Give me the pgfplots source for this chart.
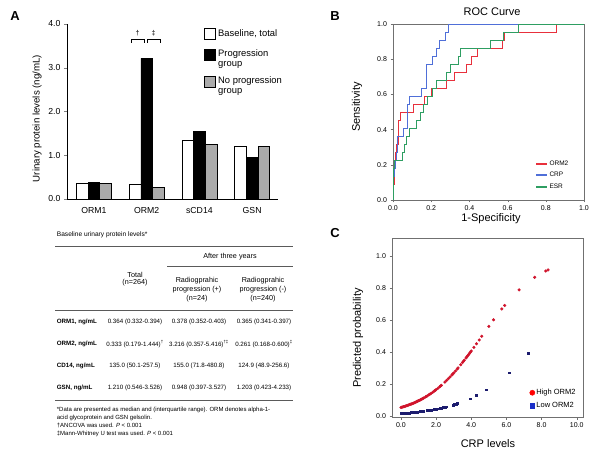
\documentclass[border=0pt]{standalone}
\usepackage{fontspec}
\setmainfont{Liberation Sans}
\usepackage{pgfplots}
\pgfplotsset{compat=1.18}
\newcommand{\fs}[1]{\fontsize{#1}{#1}\selectfont}
\definecolor{rocred}{HTML}{E8303C}
\definecolor{rocblue}{HTML}{4F6FD8}
\definecolor{rocgreen}{HTML}{2E9E62}
\definecolor{ptred}{HTML}{D0142C}
\definecolor{ptnavy}{HTML}{1C1C6E}
\definecolor{legblue}{HTML}{1A2FC8}
\definecolor{hatch}{HTML}{ABABAB}
\definecolor{rulec}{HTML}{5A5A5A}
\definecolor{framec}{HTML}{707070}
\pgfplotsset{numfmt/.style={/pgf/number format/assume math mode=true, /pgf/number format/fixed, /pgf/number format/fixed zerofill, /pgf/number format/precision=1}}
\begin{document}
\begin{tikzpicture}
\path[use as bounding box] (0pt,0pt) rectangle (602pt,458pt);
% ---------------- Panel A -----------------
\node[font=\fs{13}\bfseries] at (15pt,442pt) {A};
\begin{axis}[at={(67pt,259pt)}, anchor=south west, scale only axis,
  width=211pt, height=175pt, xmin=-0.51, xmax=3.49, ymin=0, ymax=4,
  axis x line*=bottom, axis y line*=left,
  ybar=0pt, bar width=11.7pt,
  xtick={0,1,2,3}, xticklabels={ORM1,ORM2,sCD14,GSN},
  xtick style={draw=none},
  ytick={0,1,2,3,4}, ytick align=outside, major tick length=3pt,
  numfmt,
  tick label style={font=\fs{8.7}},
  xticklabel style={yshift=-2pt},
  every axis plot/.append style={line width=0.6pt}]
\addplot[fill=white, draw=black] coordinates {(0,0.364)(1,0.333)(2,1.350)(3,1.210)};
\addplot[fill=black, draw=black] coordinates {(0,0.378)(1,3.216)(2,1.550)(3,0.948)};
\addplot[fill=hatch, draw=black] coordinates {(0,0.365)(1,0.261)(2,1.249)(3,1.203)};
\end{axis}
\node[rotate=90, font=\fs{9.7}] at (37pt,339.5pt) {Urinary protein levels (ng/mL)};
\draw[line width=0.5pt] (131pt,415pt) -- (131pt,419pt) -- (144pt,419pt) -- (144pt,415pt);
\draw[line width=0.5pt] (147pt,415pt) -- (147pt,419pt) -- (160pt,419pt) -- (160pt,415pt);
\node[font=\fs{7}] at (137.5pt,425pt) {†};
\node[font=\fs{7}] at (153.5pt,425pt) {‡};
% legend A
\draw[line width=0.6pt, fill=white] (204pt,419pt) rectangle (215pt,430pt);
\draw[line width=0.6pt, fill=black] (204pt,398pt) rectangle (215pt,409pt);
\draw[line width=0.6pt, fill=hatch] (204pt,371pt) rectangle (215pt,382pt);
\node[anchor=west, font=\fs{9.4}, inner sep=0pt] at (218pt,424.5pt) {Baseline, total};
\node[anchor=west, font=\fs{9.4}, inner sep=0pt] at (218pt,404pt) {Progression};
\node[anchor=west, font=\fs{9.4}, inner sep=0pt] at (218pt,393pt) {group};
\node[anchor=west, font=\fs{9.4}, inner sep=0pt] at (218pt,377pt) {No progression};
\node[anchor=west, font=\fs{9.4}, inner sep=0pt] at (218pt,366pt) {group};
% ---------------- Table -----------------
\node[anchor=west, font=\fs{6.6}, inner sep=0pt] at (56.7pt,223pt) {Baseline urinary protein levels*};
\draw[rulec, line width=0.9pt] (55pt,211.3pt) -- (293pt,211.3pt);
\node[font=\fs{7.2}, inner sep=0pt] at (230pt,201pt) {After three years};
\draw[rulec, line width=0.9pt] (167pt,192pt) -- (293pt,192pt);
\node[font=\fs{7.2}, inner sep=0pt] at (135pt,183pt) {Total};
\node[font=\fs{7.2}, inner sep=0pt] at (135pt,175pt) {(n=264)};
\node[font=\fs{7.2}, inner sep=0pt] at (197pt,177pt) {Radiogprahic};
\node[font=\fs{7.2}, inner sep=0pt] at (197pt,168pt) {progression (+)};
\node[font=\fs{7.2}, inner sep=0pt] at (197pt,159pt) {(n=24)};
\node[font=\fs{7.2}, inner sep=0pt] at (263pt,177pt) {Radiogprahic};
\node[font=\fs{7.2}, inner sep=0pt] at (263pt,168pt) {progression (-)};
\node[font=\fs{7.2}, inner sep=0pt] at (263pt,159pt) {(n=240)};
\draw[rulec, line width=0.9pt] (55pt,147.3pt) -- (293pt,147.3pt);
\begin{scope}[every node/.style={font=\fs{6.2}, inner sep=0pt}]
\node[anchor=west, font=\fs{6.2}\bfseries] at (56.7pt,136.3pt) {ORM1, ng/mL};
\node at (135pt,136.3pt) {0.364 (0.332-0.394)};
\node at (199pt,136.3pt) {0.378 (0.352-0.403)};
\node at (264pt,136.3pt) {0.365 (0.341-0.397)};
\node[anchor=west, font=\fs{6.2}\bfseries] at (56.7pt,114pt) {ORM2, ng/mL};
\node at (135pt,114pt) {0.333 (0.179-1.444)\textsuperscript{†}};
\node at (199pt,114pt) {3.216 (0.357-5.416)\textsuperscript{†‡}};
\node at (264pt,114pt) {0.261 (0.168-0.600)\textsuperscript{‡}};
\node[anchor=west, font=\fs{6.2}\bfseries] at (56.7pt,92.3pt) {CD14, ng/mL};
\node at (135pt,92.3pt) {135.0 (50.1-257.5)};
\node at (199pt,92.3pt) {155.0 (71.8-480.8)};
\node at (264pt,92.3pt) {124.9 (48.9-256.6)};
\node[anchor=west, font=\fs{6.2}\bfseries] at (56.7pt,69.7pt) {GSN, ng/mL};
\node at (135pt,69.7pt) {1.210 (0.546-3.526)};
\node at (199pt,69.7pt) {0.948 (0.397-3.527)};
\node at (264pt,69.7pt) {1.203 (0.423-4.233)};
\end{scope}
\draw[rulec, line width=0.9pt] (55pt,58pt) -- (293pt,58pt);
\begin{scope}[every node/.style={font=\fs{6}, inner sep=0pt, anchor=west}]
\node at (56.7pt,48pt) {*Data are presented as median and (interquartile range). ORM denotes alpha-1-};
\node at (56.7pt,40.3pt) {acid glycoprotein and GSN gelsolin.};
\node at (56.7pt,32.3pt) {†ANCOVA was used. \textit{P} < 0.001};
\node at (56.7pt,24pt) {‡Mann-Whitney U test was used. \textit{P} < 0.001};
\end{scope}
% ---------------- Panel B -----------------
\node[font=\fs{13}\bfseries] at (335pt,442pt) {B};
\node[font=\fs{11}] at (492pt,446pt) {ROC Curve};
\node[rotate=90, font=\fs{11}] at (357pt,351pt) {Sensitivity};
\node[font=\fs{11}] at (491pt,239pt) {1-Specificity};
\begin{axis}[at={(393pt,258pt)}, anchor=south west, scale only axis,
  width=191pt, height=176pt, xmin=0, xmax=1, ymin=0, ymax=1,
  xtick={0,0.2,0.4,0.6,0.8,1}, ytick={0,0.2,0.4,0.6,0.8,1},
  tick align=outside, xtick pos=bottom, ytick pos=left, major tick length=2.5pt,
  axis line style={framec}, tick style={framec},
  numfmt,
  tick label style={font=\fs{7}},
  legend style={draw=none, fill=none, font=\fs{6.5}, at={(rel axis cs:0.835,0.14)}, anchor=center,
    row sep=2.5pt, nodes={inner sep=1.5pt}},
  legend cell align=left,
  legend image code/.code={\draw[#1] (0pt,0pt) -- (11pt,0pt);}]
\addplot[rocred, line width=0.7pt, forget plot] coordinates {(0,0)(0,0.091)(0.005,0.091)(0.005,0.182)(0.012,0.182)(0.012,0.273)(0.02,0.273)(0.02,0.318)(0.027,0.318)(0.027,0.455)(0.037,0.455)(0.037,0.5)(0.105,0.5)(0.105,0.545)(0.165,0.545)(0.165,0.591)(0.2,0.591)(0.2,0.636)(0.28,0.636)(0.28,0.682)(0.32,0.682)(0.32,0.727)(0.385,0.727)(0.385,0.773)(0.41,0.773)(0.41,0.818)(0.44,0.818)(0.44,0.864)(0.572,0.864)(0.572,0.909)(0.585,0.909)(0.585,0.955)(0.857,0.955)(0.857,1)(1,1)};
\addplot[rocblue, line width=0.7pt, forget plot] coordinates {(0,0)(0,0.045)(0.003,0.045)(0.003,0.136)(0.006,0.136)(0.006,0.182)(0.012,0.182)(0.012,0.227)(0.02,0.227)(0.02,0.273)(0.025,0.273)(0.025,0.364)(0.055,0.364)(0.055,0.409)(0.075,0.409)(0.075,0.545)(0.085,0.545)(0.085,0.591)(0.15,0.591)(0.15,0.636)(0.175,0.636)(0.175,0.773)(0.205,0.773)(0.205,0.818)(0.225,0.818)(0.225,0.864)(0.245,0.864)(0.245,0.909)(0.275,0.909)(0.275,0.955)(0.29,0.955)(0.29,1)(1,1)};
\addplot[rocgreen, line width=0.7pt, forget plot] coordinates {(0,0)(0,0.091)(0.003,0.091)(0.003,0.182)(0.008,0.182)(0.008,0.227)(0.05,0.227)(0.05,0.273)(0.058,0.273)(0.058,0.318)(0.07,0.318)(0.07,0.364)(0.085,0.364)(0.085,0.409)(0.12,0.409)(0.12,0.455)(0.145,0.455)(0.145,0.5)(0.16,0.5)(0.16,0.545)(0.18,0.545)(0.18,0.591)(0.205,0.591)(0.205,0.636)(0.225,0.636)(0.225,0.682)(0.28,0.682)(0.28,0.727)(0.3,0.727)(0.3,0.773)(0.34,0.773)(0.34,0.818)(0.355,0.818)(0.355,0.864)(0.508,0.864)(0.508,0.909)(0.578,0.909)(0.578,0.955)(0.655,0.955)(0.655,1)(1,1)};
\addlegendimage{draw=rocred, line width=1.8pt}
\addlegendentry{ORM2}
\addlegendimage{draw=rocblue, line width=1.8pt}
\addlegendentry{CRP}
\addlegendimage{draw=rocgreen, line width=1.8pt}
\addlegendentry{ESR}
\end{axis}
% ---------------- Panel C -----------------
\node[font=\fs{13}\bfseries] at (335pt,225pt) {C};
\node[rotate=90, font=\fs{11}] at (358pt,120pt) {Predicted probability};
\node[font=\fs{11}] at (488pt,14pt) {CRP levels};
\begin{axis}[at={(392pt,41pt)}, anchor=south west, scale only axis,
  width=191pt, height=179pt, xmin=-0.51, xmax=10.36, ymin=-0.005, ymax=1.11,
  xtick={0,2,4,6,8,10}, ytick={0,0.2,0.4,0.6,0.8,1},
  tick align=outside, xtick pos=bottom, ytick pos=left, major tick length=2.5pt,
  axis line style={framec}, tick style={framec},
  numfmt,
  tick label style={font=\fs{7}},
  legend style={draw=none, fill=none, font=\fs{7.5}, at={(rel axis cs:0.845,0.10)}, anchor=center,
    row sep=3pt, nodes={inner sep=1.5pt}},
  legend cell align=left,
  legend image code/.code={\draw[#1] plot coordinates {(4pt,0pt)};}]
\addplot[only marks, mark=*, mark size=1.35pt, ptred, forget plot] coordinates {
(0.00,0.0542)(0.05,0.0558)(0.10,0.0574)(0.15,0.0591)(0.20,0.0609)(0.25,0.0627)(0.30,0.0645)(0.35,0.0664)(0.40,0.0684)(0.45,0.0704)(0.50,0.0724)(0.55,0.0745)(0.60,0.0767)(0.65,0.0789)(0.70,0.0812)(0.75,0.0835)(0.80,0.0860)(0.85,0.0884)(0.90,0.0910)(0.95,0.0936)(1.00,0.0962)(1.05,0.0990)(1.10,0.1017)(1.15,0.1046)(1.20,0.1076)(1.25,0.1106)(1.30,0.1137)(1.40,0.1200)(1.45,0.1234)(1.50,0.1267)(1.60,0.1338)(1.65,0.1374)(1.70,0.1411)(1.80,0.1488)(1.90,0.1568)(1.95,0.1610)(2.00,0.1652)(2.10,0.1739)(2.20,0.1830)(2.25,0.1877)(2.30,0.1925)(2.50,0.2125)(2.60,0.2231)(2.70,0.2340)(2.80,0.2453)(2.90,0.2569)(2.95,0.2629)(3.00,0.2689)(3.10,0.2813)(3.20,0.2940)(3.25,0.3005)(3.40,0.3204)(3.50,0.3340)(3.55,0.3410)(3.60,0.3479)(3.70,0.3622)(3.75,0.3694)(3.80,0.3766)(3.85,0.3839)(3.90,0.3913)(3.95,0.3987)(4.00,0.4062)(4.15,0.4288)(4.30,0.4517)(4.45,0.4748)(4.60,0.4980)(5.00,0.5597)(5.27,0.6004)(5.74,0.6680)(5.90,0.6896)(6.72,0.7869)(7.61,0.8651)(8.24,0.9046)(8.37,0.9112)};
\addplot[only marks, mark=square*, mark size=0.9pt, ptnavy, forget plot] coordinates {
(0.00,0.0170)(0.05,0.0174)(0.10,0.0178)(0.15,0.0183)(0.20,0.0187)(0.25,0.0192)(0.30,0.0196)(0.35,0.0201)(0.40,0.0206)(0.45,0.0211)(0.50,0.0217)(0.55,0.0222)(0.60,0.0228)(0.65,0.0233)(0.70,0.0239)(0.75,0.0245)(0.80,0.0251)(0.85,0.0257)(0.90,0.0264)(0.95,0.0270)(1.00,0.0277)(1.05,0.0283)(1.10,0.0290)(1.15,0.0298)(1.20,0.0305)(1.25,0.0312)(1.50,0.0352)(1.55,0.0361)(1.60,0.0370)(1.70,0.0388)(1.75,0.0397)(1.80,0.0407)(1.90,0.0427)(2.00,0.0448)(2.10,0.0470)(2.20,0.0493)(2.30,0.0517)(2.40,0.0542)(2.50,0.0568)(2.60,0.0595)(2.95,0.0701)(3.05,0.0734)(3.15,0.0769)(3.22,0.0794)(3.92,0.1091)(4.30,0.1290)(4.87,0.1645)(6.14,0.2710)(7.25,0.3931)};
\addlegendimage{only marks, mark=*, mark size=2.6pt, color=red}
\addlegendentry{High ORM2}
\addlegendimage{only marks, mark=square*, mark size=2.3pt, color=legblue}
\addlegendentry{Low ORM2}
\end{axis}
\end{tikzpicture}
\end{document}
